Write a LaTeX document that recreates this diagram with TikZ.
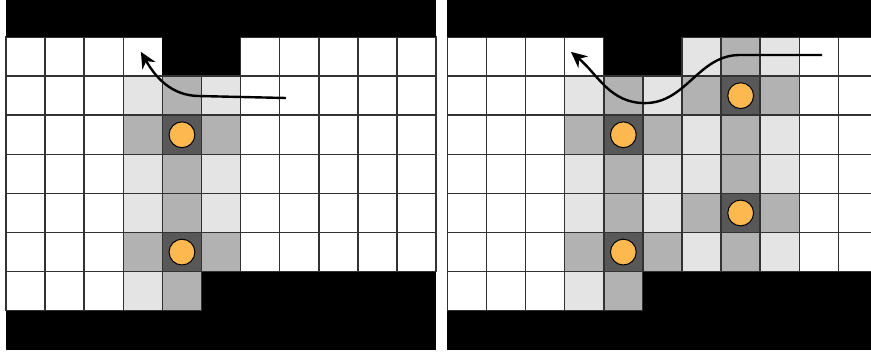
\documentclass[tikz,border=0pt]{standalone}
\usetikzlibrary{arrows.meta}
\definecolor{tilelight}{RGB}{228,228,228}
\definecolor{tilemid}{RGB}{178,178,178}
\definecolor{tiledark}{RGB}{88,88,88}
\definecolor{gridline}{RGB}{50,50,50}
\definecolor{agentorange}{RGB}{253,184,80}
\tikzset{
  >={Stealth[length=8pt,width=7.5pt]},
  tile w/.style={fill=white,draw=gridline,line width=0.75pt},
  tile l/.style={fill=tilelight,draw=gridline,line width=0.75pt},
  tile m/.style={fill=tilemid,draw=gridline,line width=0.75pt},
  tile d/.style={fill=tiledark,draw=gridline,line width=0.75pt},
  tile k/.style={fill=black},
  wall/.style={fill=black},
  agent/.style={circle,draw=black,fill=agentorange,line width=0.5pt,
    minimum size=12.9pt,inner sep=0pt},
  route/.style={->,line width=1.2pt,draw=black},
}

\begin{document}
\begin{tikzpicture}[x=19.55pt,y=19.55pt]
  \clip (-0.153,0.946) rectangle (22.12,-8.159);
  % left panel: one agent column
  \begin{scope}
    \foreach \row [count=\r from 0] in {{w,w,w,w,k,k,w,w,w,w,w},
                                        {w,w,w,l,m,l,w,w,w,w,w},
                                        {w,w,w,m,d,m,w,w,w,w,w},
                                        {w,w,w,l,m,l,w,w,w,w,w},
                                        {w,w,w,l,m,l,w,w,w,w,w},
                                        {w,w,w,m,d,m,w,w,w,w,w},
                                        {w,w,w,l,m,k,k,k,k,k,k}}{
      \foreach \t [count=\c from 0] in \row
        \path[tile \t] (\c,-\r) rectangle ++(1,-1);
    }
    \fill[wall] (0,0.946) rectangle (11,0);
    \fill[wall] (0,-7) rectangle (11,-8.01);
    \node[agent] (la1) at (4.5,-2.5) {};
    \node[agent] (la2) at (4.5,-5.5) {};
    \coordinate (ls) at (7.16,-1.56);
    \coordinate (lm) at (4.96,-1.51);
    \coordinate (le) at (3.45,-0.38);
    \draw[route] (ls) -- (lm) to[out=180,in=-60] (le);
  \end{scope}
  % right panel: two agent columns
  \begin{scope}[shift={(11.287,0)}]
    \foreach \row [count=\r from 0] in {{w,w,w,w,k,k,l,m,l,w,w},
                                        {w,w,w,l,m,l,m,d,m,w,w},
                                        {w,w,w,m,d,m,l,m,l,w,w},
                                        {w,w,w,l,m,l,l,m,l,w,w},
                                        {w,w,w,l,m,l,m,d,m,w,w},
                                        {w,w,w,m,d,m,l,m,l,w,w},
                                        {w,w,w,l,m,k,k,k,k,k,k}}{
      \foreach \t [count=\c from 0] in \row
        \path[tile \t] (\c,-\r) rectangle ++(1,-1);
    }
    \fill[wall] (0,0.946) rectangle (11,0);
    \fill[wall] (0,-7) rectangle (11,-8.01);
    \node[agent] (ra1) at (4.5,-2.5) {};
    \node[agent] (ra2) at (4.5,-5.5) {};
    \node[agent] (ra3) at (7.5,-1.5) {};
    \node[agent] (ra4) at (7.5,-4.5) {};
    \coordinate (rs) at (9.58,-0.46);
    \coordinate (rf) at (7.48,-0.46);
    \coordinate (rm) at (5.05,-1.69);
    \coordinate (re) at (3.16,-0.38);
    \draw[route] (rs) -- (rf) to[out=180,in=0] (rm) to[out=180,in=-40] (re);
  \end{scope}
\end{tikzpicture}
\end{document}
